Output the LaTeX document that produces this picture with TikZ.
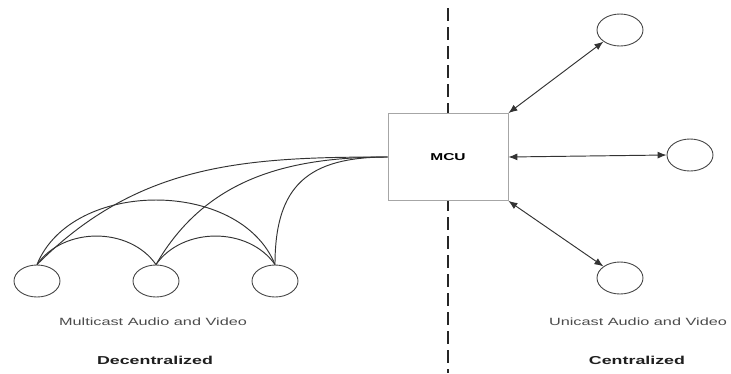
\documentclass[tikz,border=0pt]{standalone}
\usepackage{fontspec}
\setmainfont{Liberation Sans}
\usetikzlibrary{shapes.geometric,arrows.meta}
\colorlet{linegray}{black!80}
\colorlet{textgray}{black!70}

\begin{document}
\begin{tikzpicture}[x=1pt,y=-1pt,
    peer/.style={draw=black!72,line width=0.9pt,ellipse,minimum width=46pt,minimum height=32pt,inner sep=0pt},
    link/.style={draw=linegray,line width=0.95pt},
    duplex/.style={link,{Latex[length=9pt,width=7pt]}-{Latex[length=9pt,width=7pt]}},
    castlabel/.style={text=textgray,font=\fontsize{10.5}{12}\selectfont,xscale=1.55},
    sidelabel/.style={text=black!88,font=\fontsize{11.5}{13}\selectfont\bfseries,xscale=1.55}]
        \useasboundingbox (0,0) rectangle (731,373);
        % divider
        \coordinate(top) at (448,8);
        \coordinate(bottom) at (448,373);
        \draw[black!85,line width=2pt,dash pattern=on 13pt off 6pt] (top)--(bottom);
        % MCU
        \node[draw=black!35,fill=white,line width=0.8pt,minimum width=120pt,minimum height=87pt] (mcu) at (448,157)
            {\scalebox{1.55}[1]{\fontsize{10}{12}\selectfont\bfseries MCU}};
        % decentralized peers
        \node[peer] (l1) at (37,281) {};
        \node[peer] (l2) at (156,281) {};
        \node[peer] (l3) at (275,281) {};
        \draw[link] (l1.north) to[out=55,in=125] (l2.north);
        \draw[link] (l2.north) to[out=55,in=125] (l3.north);
        \draw[link] (l1.north) to[out=68,in=112] (l3.north);
        \draw[link] (l1.north) to[out=45,in=180] (mcu.west);
        \draw[link] (l2.north) to[out=60,in=180] (mcu.west);
        \draw[link] (l3.north) to[out=90,in=180,looseness=1.3] (mcu.west);
        % centralized peers
        \node[peer] (r1) at (620,30) {};
        \node[peer] (r2) at (690,155) {};
        \node[peer] (r3) at (620,278) {};
        \draw[duplex] (mcu.north east)--(r1.south west);
        \draw[duplex] (mcu.east)--(r2.west);
        \draw[duplex] (mcu.south east)--(r3.north west);
        % labels
        \node[castlabel] (multi) at (153,322) {Multicast Audio and Video};
        \node[sidelabel] (decent) at (155,360) {Decentralized};
        \node[castlabel] (uni) at (638,322) {Unicast Audio and Video};
        \node[sidelabel] (cent) at (637,360) {Centralized};
    \end{tikzpicture}
\end{document}
